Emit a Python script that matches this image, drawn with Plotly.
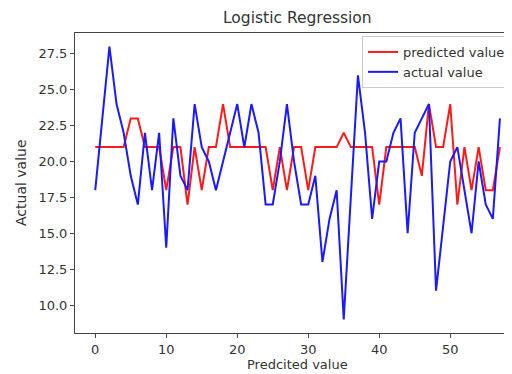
import plotly.graph_objects as go

x_index = list(range(58))

predicted = [21, 21, 21, 21, 21, 23, 23, 21, 21, 21,
             18, 21, 21, 17, 21, 18, 21, 21, 24, 21,
             21, 21, 21, 21, 21, 18, 21, 18, 21, 21,
             18, 21, 21, 21, 21, 22, 21, 21, 21, 21,
             17, 21, 21, 21, 21, 21, 19, 24, 21, 21,
             24, 17, 21, 18, 21, 18, 18, 21]

actual = [18, 23, 28, 24, 22, 19, 17, 22, 18, 22,
          14, 23, 19, 18, 24, 21, 20, 18, 20, 22,
          24, 21, 24, 22, 17, 17, 20, 24, 20, 17,
          17, 19, 13, 16, 18, 9, 17.5, 26, 22, 16,
          20, 20, 22, 23, 15, 22, 23, 24, 11, 15.5,
          20, 21, 18, 15, 20, 17, 16, 23]

x_ticks = [0, 10, 20, 30, 40, 50]
y_ticks = [10.0, 12.5, 15.0, 17.5, 20.0, 22.5, 25.0, 27.5]

txt = "#333333"
font = "DejaVu Sans"

# the page body has an 8px margin, so the figure is laid out 8px up/left of page pixels
L, T, B = 67, 25, 325
W = 512 - L
H = B - T


def px_x(page_x):
    return (page_x - 8 - L) / W


def px_y(page_y):
    return (B - (page_y - 8)) / H


fig = go.Figure()
fig.add_trace(go.Scatter(x=x_index, y=predicted, mode="lines", name="predicted value",
                         line=dict(color="#ff1a1a", width=2)))
fig.add_trace(go.Scatter(x=x_index, y=actual, mode="lines", name="actual value",
                         line=dict(color="#1a1aff", width=2)))

fig.update_layout(
    width=512, height=374,
    margin=dict(l=L, r=0, t=T, b=374 - B),
    paper_bgcolor="white", plot_bgcolor="white",
    font=dict(family=font, size=13, color=txt),
    showlegend=True,
    legend=dict(x=px_x(362), y=px_y(36), xanchor="left", yanchor="top",
                bgcolor="rgba(255,255,255,0.85)", bordercolor="#cccccc", borderwidth=1,
                font=dict(size=13, color=txt), tracegroupgap=0),
    xaxis=dict(range=[-2.85, -2.85 + W / 7.1], tickvals=x_ticks, showgrid=False,
               zeroline=False, showline=True, linecolor="#444444", linewidth=1, mirror=True,
               ticks="outside", ticklen=4, tickcolor="#444444",
               tickfont=dict(size=13, color=txt)),
    yaxis=dict(range=[8.05, 28.95], tickvals=y_ticks, tickformat=".1f", showgrid=False,
               zeroline=False, showline=True, linecolor="#444444", linewidth=1, mirror=False,
               ticks="outside", ticklen=4, tickcolor="#444444",
               tickfont=dict(size=13, color=txt)),
    annotations=[
        dict(text="Logistic Regression", xref="paper", yref="paper",
             x=px_x(297), y=px_y(18.5), xanchor="center", yanchor="middle",
             showarrow=False, font=dict(size=15.5, color=txt)),
        dict(text="Predcited value", xref="paper", yref="paper",
             x=px_x(297), y=px_y(364), xanchor="center", yanchor="middle",
             showarrow=False, font=dict(size=13, color=txt)),
        dict(text="Actual value", xref="paper", yref="paper",
             x=px_x(21), y=0.5, xanchor="center", yanchor="middle", textangle=-90,
             showarrow=False, font=dict(size=14, color=txt)),
    ],
)

fig.write_html("out.html")
